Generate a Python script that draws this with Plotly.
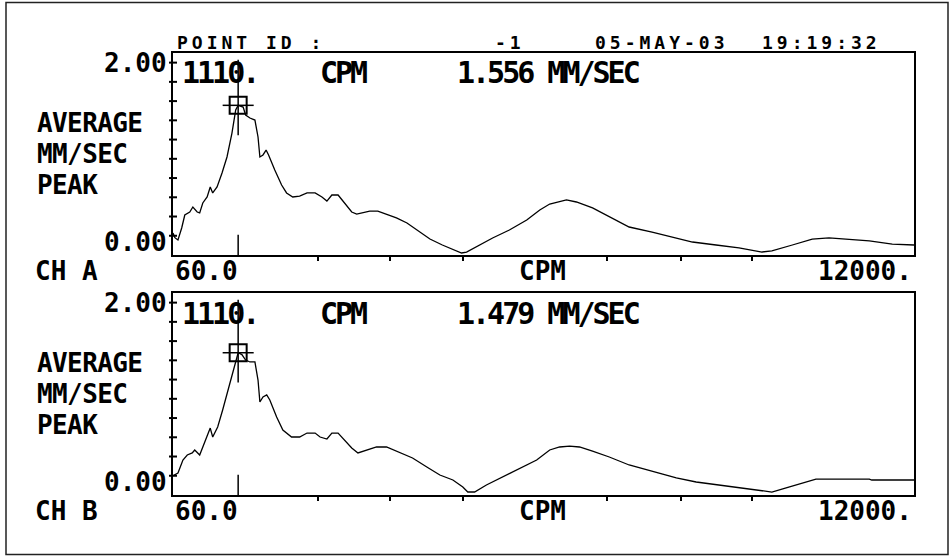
import plotly.graph_objects as go

# ---------------- spectrum data (CPM vs MM/SEC peak) ----------------
cpm_a = [60, 90, 140, 200, 250, 330, 380, 450, 490, 540,
         610, 660, 700, 770, 850, 930, 1010, 1070, 1110, 1190,
         1230, 1300, 1380, 1430, 1460, 1510, 1560, 1600, 1700, 1810,
         1890, 1990, 2100, 2220, 2350, 2460, 2540, 2620, 2720, 2830,
         2940, 3020, 3120, 3230, 3360, 3500, 3660, 3830, 3990, 4200,
         4400, 4570, 4710, 4790, 5000, 5210, 5480, 5760, 5970, 6130,
         6400, 6560, 6820, 7090, 7410, 7780, 8110, 8430, 8810, 9180,
         9550, 9710, 10040, 10360, 10630, 11000, 11280, 11650, 12000]
vel_a = [0.23, 0.18, 0.156, 0.281, 0.416, 0.447, 0.499, 0.447, 0.437, 0.541,
         0.603, 0.707, 0.645, 0.707, 0.852, 1.019, 1.268, 1.507, 1.556, 1.538,
         1.455, 1.424, 1.403, 1.227, 1.019, 1.040, 1.091, 1.040, 0.884, 0.728,
         0.645, 0.603, 0.613, 0.645, 0.645, 0.603, 0.561, 0.624, 0.624, 0.541,
         0.447, 0.426, 0.437, 0.457, 0.457, 0.426, 0.385, 0.333, 0.260, 0.166,
         0.104, 0.062, 0.021, 0.031, 0.104, 0.177, 0.260, 0.364, 0.468, 0.530,
         0.572, 0.551, 0.489, 0.395, 0.291, 0.239, 0.187, 0.135, 0.104, 0.073,
         0.031, 0.042, 0.104, 0.166, 0.177, 0.156, 0.146, 0.114, 0.104]

cpm_b = [60, 90, 140, 220, 290, 370, 410, 490, 570, 660,
         700, 780, 860, 950, 1030, 1110, 1170, 1230, 1300, 1380,
         1430, 1460, 1510, 1570, 1620, 1730, 1830, 1970, 2100, 2220,
         2350, 2430, 2540, 2620, 2720, 2830, 2940, 3040, 3180, 3340,
         3500, 3680, 3920, 4150, 4360, 4570, 4730, 4810, 4920, 5110,
         5370, 5640, 5920, 6130, 6290, 6450, 6610, 6820, 7090, 7410,
         7780, 8170, 8490, 8860, 9230, 9460, 9710, 9940, 10200, 10420,
         10790, 11280, 11320, 12000]
vel_b = [0.20, 0.208, 0.229, 0.364, 0.416, 0.437, 0.468, 0.416, 0.541, 0.696,
         0.603, 0.707, 0.884, 1.091, 1.299, 1.479, 1.46, 1.403, 1.383, 1.383,
         1.195, 0.967, 1.019, 1.040, 0.988, 0.811, 0.676, 0.603, 0.603, 0.644,
         0.644, 0.603, 0.582, 0.644, 0.644, 0.572, 0.489, 0.437, 0.468, 0.499,
         0.499, 0.447, 0.385, 0.291, 0.208, 0.156, 0.083, 0.031, 0.031, 0.104,
         0.187, 0.281, 0.364, 0.468, 0.499, 0.509, 0.499, 0.457, 0.395, 0.312,
         0.249, 0.177, 0.135, 0.104, 0.073, 0.052, 0.031, 0.073, 0.125, 0.166,
         0.166, 0.166, 0.156, 0.156]

peak_cpm = 1110
peak_a = 1.556
peak_b = 1.479

x_min, x_max = 60, 12000
y_max_label = 2.00
y_ticks = [0.2, 0.4, 0.6, 0.8, 1.0, 1.2, 1.4, 1.6, 1.8, 2.0]
x_ticks = [2390, 3550, 4730, 7060, 8250, 9390]

header = [("POINT ID :", 175), ("-1", 493), ("05-MAY-03", 593), ("19:19:32", 760)]
channels = ["CH A", "CH B"]
y_title = ["AVERAGE", "MM/SEC", "PEAK"]
x_unit = "CPM"
amp_unit = "MM/SEC"

# ---------------- page geometry (pixels) ----------------
W, H = 949, 556
X_LEFT, X_RIGHT = 173, 914
PANELS = [(53, 255), (293, 495)]          # (top, bottom) of each plot box
Y_RANGE = [0, 2.1]


def fx(x):
    return x / W


def fy(y):
    return 1 - y / H


BLACK = "#000000"
BIG = dict(family="DejaVu Sans Mono", size=26, color=BLACK, weight="bold")
TALL = dict(family="DejaVu Sans Mono", size=30, color=BLACK, weight="bold")
SMALL = dict(family="DejaVu Sans Mono", size=18, color=BLACK, weight="bold")
# block font: base size sets the 31 px line pitch
BLOCK = dict(family="DejaVu Sans Mono", size=24, color=BLACK, weight="bold")


def tall(s):
    return f'<span style="letter-spacing:-3px">{s}</span>'


def tall_block(lines):
    return "<br>".join(
        f'<span style="font-size:26px;letter-spacing:-0.6px">{s}</span>' for s in lines)


def spaced(s):
    return f'<span style="letter-spacing:4px">{s}</span>'


fig = go.Figure()
annotations = []
shapes = []

series = [(cpm_a, vel_a, peak_a), (cpm_b, vel_b, peak_b)]

for i, ((top, bot), (cx, cy, pk)) in enumerate(zip(PANELS, series)):
    n = "" if i == 0 else str(i + 1)
    xa, ya = "x" + n, "y" + n

    fig.add_trace(go.Scatter(
        x=cx, y=cy, mode="lines", xaxis=xa, yaxis=ya,
        line=dict(color=BLACK, width=1.3), hoverinfo="skip"))

    # cursor box on the peak
    fig.add_trace(go.Scatter(
        x=[peak_cpm], y=[pk], mode="markers", xaxis=xa, yaxis=ya,
        marker=dict(symbol="square-open", size=17, color=BLACK,
                    line=dict(color=BLACK, width=2)),
        hoverinfo="skip"))

    line = dict(color=BLACK, width=1.5)
    # cursor cross and vertical hair
    shapes.append(dict(type="line", xref=xa, yref=ya,
                       x0=peak_cpm - 250, x1=peak_cpm + 250, y0=pk, y1=pk, line=line))
    shapes.append(dict(type="line", xref=xa, yref=ya,
                       x0=peak_cpm, x1=peak_cpm, y0=pk - 0.31, y1=2.03, line=line))
    shapes.append(dict(type="line", xref=xa, yref=ya,
                       x0=peak_cpm, x1=peak_cpm, y0=0, y1=0.21, line=line))

    # y ticks crossing the axis
    for t in y_ticks:
        shapes.append(dict(type="line", xref="paper", yref=ya,
                           x0=fx(X_LEFT - 4), x1=fx(X_LEFT + 4), y0=t, y1=t,
                           line=dict(color=BLACK, width=2)))

    # y labels
    annotations.append(dict(text=f"{y_max_label:.2f}", xref="paper", yref=ya,
                            x=fx(X_LEFT - 4), y=y_max_label, xanchor="right",
                            yanchor="middle", showarrow=False, font=BIG))
    annotations.append(dict(text=f"{0:.2f}", xref="paper", yref=ya,
                            x=fx(X_LEFT - 4), y=0, yshift=13, xanchor="right",
                            yanchor="middle", showarrow=False, font=BIG))
    annotations.append(dict(text=tall_block(y_title), xref="paper", yref="paper",
                            x=fx(35), y=fy(top + 101), xanchor="left",
                            yanchor="middle", align="left",
                            showarrow=False, font=BLOCK))

    # cursor readout
    ry = fy(top + 20)
    annotations.append(dict(text=tall(f"{peak_cpm}."), xref="paper", yref="paper",
                            x=fx(180), y=ry, xanchor="left", yanchor="middle",
                            showarrow=False, font=TALL))
    annotations.append(dict(text=tall(x_unit), xref="paper", yref="paper",
                            x=fx(318), y=ry, xanchor="left", yanchor="middle",
                            showarrow=False, font=TALL))
    annotations.append(dict(text=tall(f"{pk:.3f} {amp_unit}"), xref="paper", yref="paper",
                            x=fx(455), y=ry, xanchor="left", yanchor="middle",
                            showarrow=False, font=TALL))

    # x axis label row
    ly = fy(bot + 16)
    annotations.append(dict(text=channels[i], xref="paper", yref="paper",
                            x=fx(33), y=ly, xanchor="left", yanchor="middle",
                            showarrow=False, font=BIG))
    annotations.append(dict(text=f"{x_min:.1f}", xref=xa, yref="paper",
                            x=x_min, y=ly, xanchor="left", yanchor="middle",
                            showarrow=False, font=BIG))
    annotations.append(dict(text=x_unit, xref="paper", yref="paper",
                            x=fx(542), y=ly, xanchor="center", yanchor="middle",
                            showarrow=False, font=BIG))
    annotations.append(dict(text=f"{x_max}.", xref=xa, yref="paper",
                            x=x_max, y=ly, xanchor="right", yanchor="middle",
                            showarrow=False, font=BIG))

    axis_common = dict(showline=True, mirror=True, linecolor=BLACK, linewidth=2,
                       showgrid=False, zeroline=False)
    fig.update_layout({
        "xaxis" + n: dict(axis_common, domain=[fx(X_LEFT), fx(X_RIGHT)],
                          range=[x_min, x_max], anchor=ya,
                          tickmode="array", tickvals=x_ticks, ticks="outside",
                          ticklen=4, tickwidth=2, tickcolor=BLACK,
                          showticklabels=False),
        "yaxis" + n: dict(axis_common, domain=[fy(bot), fy(top)],
                          range=Y_RANGE, anchor=xa, ticks="",
                          showticklabels=False),
    })

# header line
for text, x in header:
    annotations.append(dict(text=spaced(text), xref="paper", yref="paper",
                            x=fx(x), y=fy(43), xanchor="left", yanchor="middle",
                            showarrow=False, font=SMALL))

# page frame
shapes.append(dict(type="rect", xref="paper", yref="paper",
                   x0=fx(6), x1=fx(948), y0=fy(554.5), y1=fy(2.5),
                   line=dict(color="#222222", width=1.5)))

fig.update_layout(
    width=W, height=H, margin=dict(l=0, r=0, t=0, b=0),
    paper_bgcolor="white", plot_bgcolor="white", showlegend=False,
    annotations=annotations, shapes=shapes,
)

fig.write_html("out.html")
